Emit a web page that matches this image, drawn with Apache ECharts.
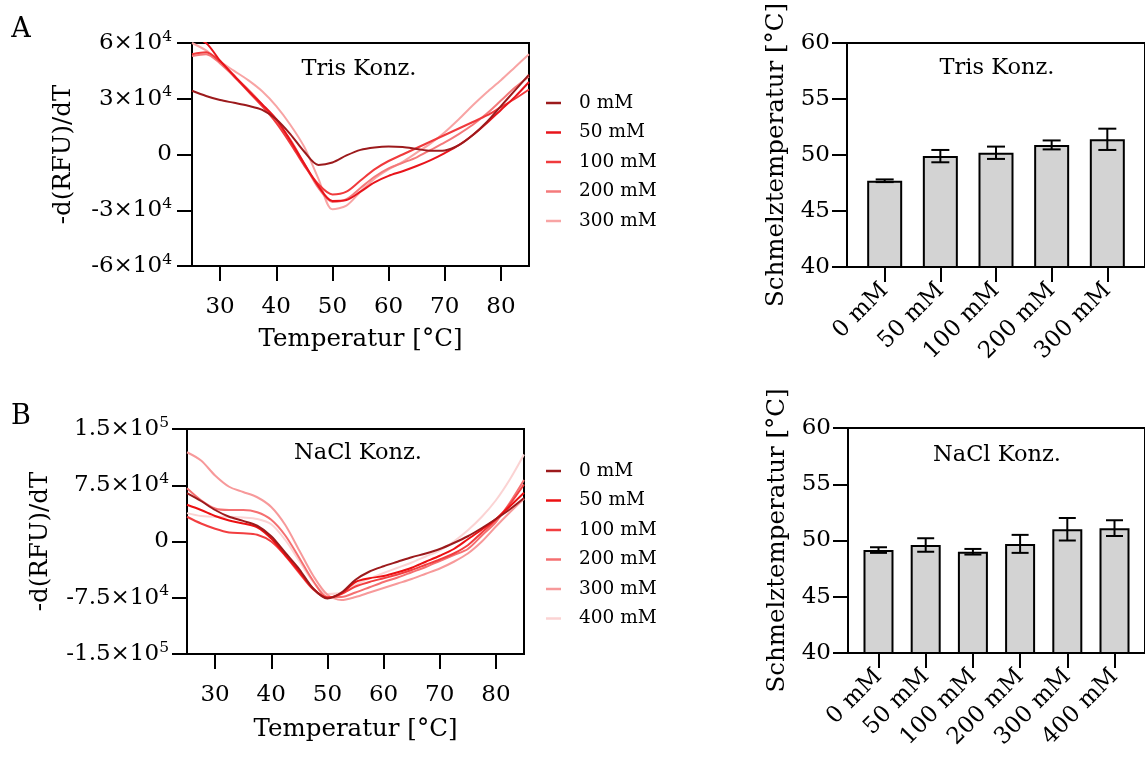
<!DOCTYPE html>
<html>
<head>
<meta charset="utf-8">
<script src="https://cdn.jsdelivr.net/npm/echarts@6/dist/echarts.min.js"></script>
<style>
html, body { margin: 0; padding: 0; background: #fff; }
#chart { width: 1145px; height: 762px; }
</style>
</head>
<body>
<div id="chart"></div>
<script>
// Temperature grid of the melt-curve derivatives (°C)
const temps = [25, 27.5, 30, 32.5, 35, 37.5, 40, 42.5, 45, 47.5, 50, 52.5, 55, 57.5, 60, 62.5, 65, 67.5, 70, 72.5, 75, 77.5, 80, 82.5, 85];

// Panel A: -d(RFU)/dT for different Tris concentrations
const trisNames = ['0 mM', '50 mM', '100 mM', '200 mM', '300 mM'];
const tris0   = [34300, 31500, 29300, 27800, 26200, 24000, 19000, 11000, 1500, -5600, -4300, -500, 2500, 3800, 4300, 4000, 3000, 2000, 2200, 5000, 10500, 17500, 26000, 34500, 43000];
const tris50  = [63000, 60000, 50500, 42500, 34500, 27000, 19000, 7500, -5000, -17000, -25000, -24500, -20000, -15000, -11500, -9000, -6200, -3000, 800, 5000, 10500, 17000, 24000, 31000, 39000];
const tris100 = [54000, 55000, 50000, 42000, 34000, 26000, 17000, 6000, -6000, -16000, -21500, -20000, -14000, -8000, -3500, 0, 3500, 7000, 10500, 14000, 17500, 21000, 25500, 30000, 35000];
const tris200 = [53000, 54000, 49000, 42000, 35000, 27000, 18000, 8000, -5000, -18000, -25500, -24000, -18000, -12000, -7500, -4500, -1500, 2500, 6500, 11000, 16000, 22000, 29000, 36000, 42000];
const tris300 = [60000, 56000, 50000, 45000, 40000, 34000, 26000, 16000, 4000, -13000, -29500, -27500, -20000, -13000, -8000, -4000, 1000, 6000, 12000, 19000, 26500, 33500, 40000, 47000, 54000];

// Panel B: -d(RFU)/dT for different NaCl concentrations
const naclNames = ['0 mM', '50 mM', '100 mM', '200 mM', '300 mM', '400 mM'];
const nacl0   = [64500, 54000, 42000, 33000, 27500, 21000, 7000, -15000, -37000, -63000, -76000, -68000, -51000, -40000, -33000, -27000, -21000, -16000, -10000, -2000, 7000, 18000, 30000, 43000, 58000];
const nacl50  = [49000, 42000, 34000, 28000, 24000, 19000, 4000, -18000, -40000, -63000, -75000, -69000, -54000, -49000, -46000, -41000, -35000, -27000, -19000, -10000, 3000, 16000, 30000, 47000, 65000];
const nacl100 = [33000, 24000, 17000, 12000, 11000, 9000, 0, -19000, -42000, -64000, -75000, -70000, -60000, -54000, -49000, -44000, -38000, -31000, -24000, -16000, -5000, 12000, 29000, 50000, 76000];
const nacl200 = [71000, 55000, 44000, 42000, 42000, 39000, 29000, 8000, -22000, -53000, -74000, -74000, -68000, -61000, -54000, -48000, -41000, -34000, -26000, -18000, -10000, 8000, 26000, 52000, 82000];
const nacl300 = [119000, 108000, 88000, 73000, 66000, 59000, 46000, 22000, -12000, -46000, -71000, -78000, -74000, -68000, -62000, -56000, -50000, -43000, -36000, -27000, -16000, 0, 20000, 39000, 57000];
const nacl400 = [37800, 34000, 33000, 33000, 32000, 30000, 23000, 2000, -26000, -54000, -70000, -68000, -58000, -49000, -42000, -35000, -28000, -20000, -12000, 0, 15000, 33000, 55000, 83000, 116000];

// Melting temperatures (°C) with error bars
const meltTris    = [47.7, 49.9, 50.2, 50.9, 51.4];
const meltTrisErr = [0.12, 0.55, 0.55, 0.4, 0.95];
const meltNacl    = [49.15, 49.6, 49.0, 49.7, 51.0, 51.1];
const meltNaclErr = [0.25, 0.6, 0.25, 0.8, 1.0, 0.7];

// Axis ticks
const tempTicks = [30, 40, 50, 60, 70, 80];

const FONT = 'DejaVu Serif';
const trisColors = ['#9c1a1c', '#e8141b', '#f03a3c', '#f47a7b', '#f8a4a4'];
const naclColors = ['#9c1a1c', '#ec1012', '#f23e40', '#f56f70', '#f7999a', '#fbd3d3'];

function sci(v) {
  if (v === 0) return '{n|0}';
  const e = Math.floor(Math.log10(Math.abs(v)) + 1e-9);
  const m = +(v / Math.pow(10, e)).toFixed(2);
  return '{n|' + m + '×10}{s|' + e + '}';
}
const sciRich = {
  n: { fontFamily: FONT, fontSize: 23, color: '#000', lineHeight: 29 },
  s: { fontFamily: FONT, fontSize: 15.5, color: '#000', lineHeight: 15, verticalAlign: 'top' }
};

const axisLineStyle = { onZero: false, lineStyle: { color: '#000', width: 2 } };
const tickStyle = { show: true, inside: false, length: 15, lineStyle: { color: '#000', width: 2 } };

function tempAxis(gridIndex, nameGap) {
  return {
    type: 'value', gridIndex, min: 25, max: 85,
    axisLine: axisLineStyle,
    axisTick: Object.assign({ customValues: tempTicks }, tickStyle),
    axisLabel: { customValues: tempTicks, margin: 30, fontFamily: FONT, fontSize: 23, color: '#000' },
    splitLine: { show: false },
    name: 'Temperatur [°C]', nameLocation: 'middle', nameGap,
    nameTextStyle: { fontFamily: FONT, fontSize: 24.5, color: '#000' }
  };
}
function derivAxis(gridIndex, lim, step, nameGap, margin) {
  return {
    type: 'value', gridIndex, min: -lim, max: lim, interval: step,
    axisLine: axisLineStyle, axisTick: tickStyle,
    axisLabel: { margin, formatter: sci, rich: sciRich },
    splitLine: { show: false },
    name: '-d(RFU)/dT', nameLocation: 'middle', nameGap, nameRotate: 90,
    nameTextStyle: { fontFamily: FONT, fontSize: 24.5, color: '#000' }
  };
}
function catAxis(gridIndex, names, pad) {
  const idx = names.map((_, i) => i);
  return {
    type: 'value', gridIndex, min: -pad, max: names.length - 1 + pad,
    axisLine: axisLineStyle,
    axisTick: Object.assign({ customValues: idx }, tickStyle),
    axisLabel: { customValues: idx, formatter: v => names[Math.round(v)], rotate: 45, margin: 20,
      fontFamily: FONT, fontSize: 23, color: '#000' },
    splitLine: { show: false }
  };
}
function meltAxis(gridIndex) {
  return {
    type: 'value', gridIndex, min: 40, max: 60, interval: 5,
    axisLine: axisLineStyle, axisTick: tickStyle,
    axisLabel: { margin: 17, fontFamily: FONT, fontSize: 23, color: '#000' },
    splitLine: { show: false },
    name: 'Schmelztemperatur [°C]', nameLocation: 'middle', nameGap: 58, nameRotate: 90,
    nameTextStyle: { fontFamily: FONT, fontSize: 24.5, color: '#000' }
  };
}

function curves(prefix, names, sets, colors, idx) {
  return sets.map((vals, i) => ({
    type: 'line', name: prefix + names[i], xAxisIndex: idx, yAxisIndex: idx,
    data: temps.map((t, k) => [t, vals[k]]),
    smooth: 0.3, showSymbol: false, symbol: 'none', clip: true,
    lineStyle: { color: colors[i], width: 2 }, itemStyle: { color: colors[i] },
    z: 10 - i
  }));
}
function bars(means, idx, width) {
  return {
    type: 'bar', xAxisIndex: idx, yAxisIndex: idx, barWidth: width,
    data: means.map((m, i) => [i, m]),
    itemStyle: { color: '#d3d3d3', borderColor: '#000', borderWidth: 2 },
    clip: true, z: 3
  };
}
function errorBars(means, errs, idx, cap) {
  return {
    type: 'custom', xAxisIndex: idx, yAxisIndex: idx, z: 5,
    data: means.map((m, i) => [i, m - errs[i], m + errs[i]]),
    encode: { x: 0, y: [1, 2] },
    renderItem: (params, api) => {
      const lo = api.coord([api.value(0), api.value(1)]);
      const hi = api.coord([api.value(0), api.value(2)]);
      const st = { stroke: '#000', lineWidth: 2 };
      return { type: 'group', children: [
        { type: 'line', shape: { x1: lo[0], y1: lo[1], x2: hi[0], y2: hi[1] }, style: st },
        { type: 'line', shape: { x1: lo[0] - cap, y1: lo[1], x2: lo[0] + cap, y2: lo[1] }, style: st },
        { type: 'line', shape: { x1: hi[0] - cap, y1: hi[1], x2: hi[0] + cap, y2: hi[1] }, style: st }
      ] };
    }
  };
}
function legendFor(prefix, names, top) {
  return {
    orient: 'vertical', left: 541, top, selectedMode: false,
    data: names.map(n => prefix + n), formatter: n => n.slice(prefix.length),
    icon: 'rect', itemWidth: 15, itemHeight: 2.5, itemGap: 9.5,
    textStyle: { fontFamily: FONT, fontSize: 18.5, color: '#000', lineHeight: 20, padding: [0, 0, 0, 13] }
  };
}
function label(text, x, y, size, align) {
  return { type: 'text', x, y, style: { text, fontFamily: FONT, fontSize: size, fill: '#000',
    align: align || 'center', verticalAlign: 'middle' }, z: 20 };
}

const gridBase = { show: true, borderColor: '#000', borderWidth: 2, backgroundColor: 'transparent', containLabel: false };

const option = {
  backgroundColor: '#fff',
  animation: false,
  grid: [
    Object.assign({ left: 192, top: 43, width: 337, height: 223 }, gridBase),
    Object.assign({ left: 187, top: 429, width: 337, height: 225 }, gridBase),
    Object.assign({ left: 847, top: 43, width: 301, height: 224 }, gridBase),
    Object.assign({ left: 848, top: 428, width: 299, height: 225 }, gridBase)
  ],
  xAxis: [
    tempAxis(0, 61),
    tempAxis(1, 63),
    catAxis(2, trisNames, 0.677),
    catAxis(3, naclNames, 0.646)
  ],
  yAxis: [
    derivAxis(0, 60000, 30000, 116, 20),
    derivAxis(1, 150000, 75000, 134, 18),
    meltAxis(2),
    meltAxis(3)
  ],
  legend: [
    legendFor('Tris ', trisNames, 88),
    legendFor('NaCl ', naclNames, 456)
  ],
  series: [].concat(
    curves('Tris ', trisNames, [tris0, tris50, tris100, tris200, tris300], trisColors, 0),
    curves('NaCl ', naclNames, [nacl0, nacl50, nacl100, nacl200, nacl300, nacl400], naclColors, 1),
    [bars(meltTris, 2, 35), errorBars(meltTris, meltTrisErr, 2, 9),
     bars(meltNacl, 3, 30), errorBars(meltNacl, meltNaclErr, 3, 8.5)]
  ),
  graphic: [
    label('A', 21, 30, 27),
    label('B', 21, 417, 27),
    label('Tris Konz.', 359, 69, 22.5),
    label('NaCl Konz.', 358, 453, 22.5),
    label('Tris Konz.', 997, 68, 22.5),
    label('NaCl Konz.', 997, 455, 22.5)
  ]
};

const chart = echarts.init(document.getElementById('chart'), null, { renderer: 'canvas' });
chart.setOption(option);
</script>
</body>
</html>
